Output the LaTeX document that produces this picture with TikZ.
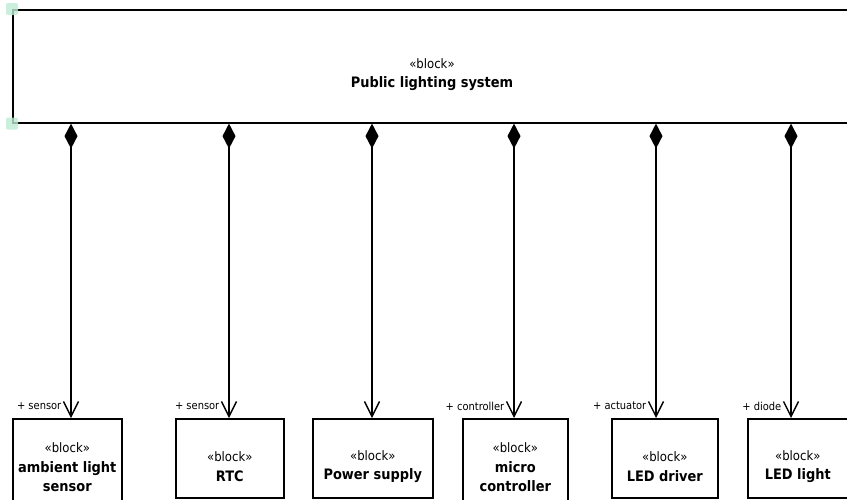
\documentclass[tikz,border=0pt]{standalone}
\usepackage{fontspec}
\setmainfont{DejaVu Sans Condensed}
\usetikzlibrary{arrows.meta,calc}
\definecolor{handlegreen}{RGB}{190,235,212}
\newcommand\blkname[1]{{\fontsize{14.4}{19.5}\selectfont\bfseries #1}}
\tikzset{
  blockbox/.style={draw, line width=1.6pt, anchor=north west, inner sep=0pt, fill=white},
  blocktext/.style={align=center, inner sep=0pt, font=\fontsize{13}{19.5}\selectfont},
  comp/.style={line width=1.4pt,
    {Diamond[length=25pt,width=13pt,fill=black]}-{Straight Barb[length=15pt,width=15pt,line width=1.4pt]}},
  rolelabel/.style={anchor=east, inner sep=0pt, font=\fontsize{11}{12}\selectfont, xshift=-9pt, yshift=12pt},
  handle/.style={fill=handlegreen, draw=none, opacity=0.8, rounded corners=2pt}
}
\begin{document}
\begin{tikzpicture}[x=1pt, y=-1pt]
  \useasboundingbox (0,0) rectangle (847,499);
  \clip (0,0) rectangle (847,499);

  % Whole system
  \node[blockbox, minimum width=843pt, minimum height=113pt] (sys) at (12,9) {};
  \node[blocktext] (systext) at (432,74.5) {«block»\\\blkname{Public lighting system}};

  % Parts
  \node[blockbox, minimum width=109pt, minimum height=95pt] (b1) at (12,418) {};
  \node[blockbox, minimum width=108pt, minimum height=79pt] (b2) at (175,418) {};
  \node[blockbox, minimum width=120pt, minimum height=79pt] (b3) at (312,418) {};
  \node[blockbox, minimum width=105pt, minimum height=95pt] (b4) at (462,418) {};
  \node[blockbox, minimum width=106pt, minimum height=79pt] (b5) at (611,418) {};
  \node[blockbox, minimum width=100pt, minimum height=79pt] (b6) at (747,418) {};

  \node[blocktext] (t1) at ([yshift=-49.5pt]b1.north) {«block»\\\blkname{ambient light}\\\blkname{sensor}};
  \node[blocktext] (t2) at ([yshift=-48.5pt]b2.north) {«block»\\\blkname{RTC}};
  \node[blocktext] (t3) at ([yshift=-48.5pt]b3.north) {«block»\\\blkname{Power supply}};
  \node[blocktext] (t4) at ([yshift=-49.5pt]b4.north) {«block»\\\blkname{micro}\\\blkname{controller}};
  \node[blocktext] (t5) at ([yshift=-48.5pt]b5.north) {«block»\\\blkname{LED driver}};
  \node[blocktext] (t6) at ([yshift=-48.5pt]b6.north) {«block»\\\blkname{LED light}};

  % Attachment points on the part tops
  \coordinate (p1) at (b1.north west -| 71,0);
  \coordinate (p2) at (b2.north west -| 229,0);
  \coordinate (p3) at (b3.north west -| 372,0);
  \coordinate (p4) at (b4.north west -| 514,0);
  \coordinate (p5) at (b5.north west -| 656,0);
  \coordinate (p6) at (b6.north west -| 791,0);

  % Composition connectors
  \draw[comp] (sys.south -| p1) -- (p1) node[rolelabel] {+ sensor};
  \draw[comp] (sys.south -| p2) -- (p2) node[rolelabel] {+ sensor};
  \draw[comp] (sys.south -| p3) -- (p3);
  \draw[comp] (sys.south -| p4) -- (p4) node[rolelabel] {+ controller};
  \draw[comp] (sys.south -| p5) -- (p5) node[rolelabel] {+ actuator};
  \draw[comp] (sys.south -| p6) -- (p6) node[rolelabel] {+ diode};

  % Selection handles
  \fill[handle] ($(sys.north west)+(-6,-6)$) rectangle ++(12,12);
  \fill[handle] ($(sys.south west)+(-6,-6)$) rectangle ++(12,12);
\end{tikzpicture}
\end{document}
